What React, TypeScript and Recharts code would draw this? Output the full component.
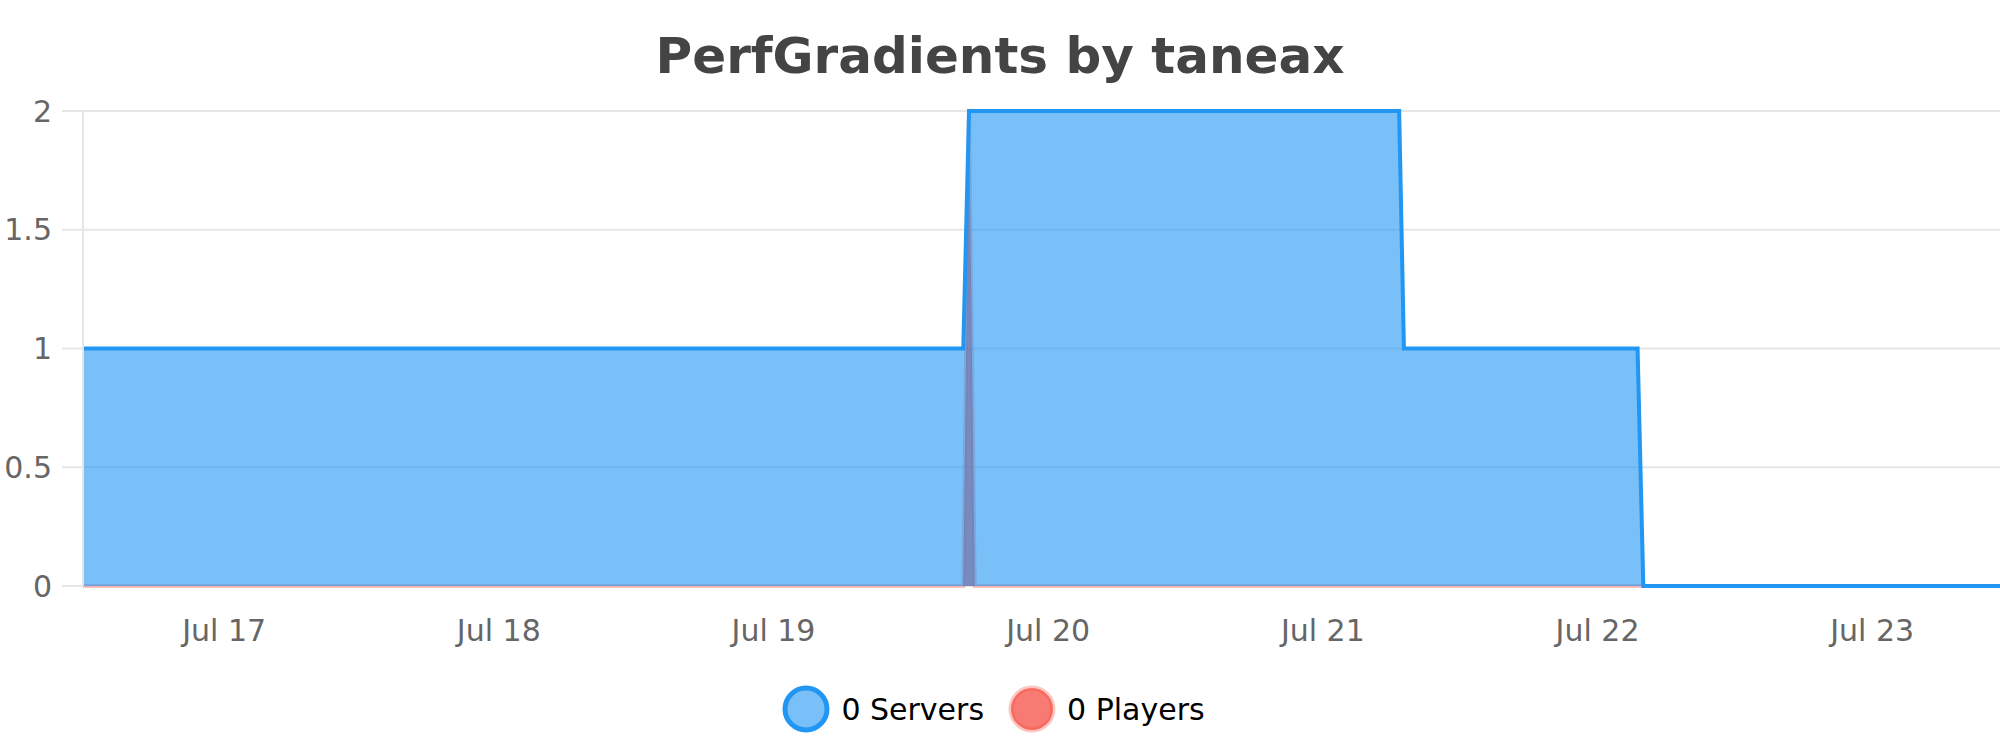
import { AreaChart, Area, XAxis, YAxis, CartesianGrid, Legend } from 'recharts';

// timestamps (UTC) where the series change
const times = [
  Date.UTC(2024, 6, 16, 11, 40),
  Date.UTC(2024, 6, 19, 16, 35),
  Date.UTC(2024, 6, 19, 17, 5),
  Date.UTC(2024, 6, 19, 17, 35),
  Date.UTC(2024, 6, 21, 6, 40),
  Date.UTC(2024, 6, 21, 7, 5),
  Date.UTC(2024, 6, 22, 3, 30),
  Date.UTC(2024, 6, 22, 4, 0),
  Date.UTC(2024, 6, 23, 11, 10),
];
const servers = [1, 1, 2, 2, 2, 1, 1, 0, 0];
const players = [0, 0, 2, 0, 0, 0, 0, 0, 0];

const dayTicks = [17, 18, 19, 20, 21, 22, 23].map((d) => Date.UTC(2024, 6, d));
const yTicks = [0, 0.5, 1, 1.5, 2];
const months = ['Jan', 'Feb', 'Mar', 'Apr', 'May', 'Jun', 'Jul', 'Aug', 'Sep', 'Oct', 'Nov', 'Dec'];

const title = 'PerfGradients by taneax';
const seriesNames = ['0 Servers', '0 Players'];

const data = times.map((t, i) => ({ time: t, servers: servers[i], players: players[i] }));

const BLUE = '#2196f3';
const RED = '#f44336';

const legendItems = [
  { name: seriesNames[0], fill: BLUE, fillOpacity: 0.6, stroke: BLUE, strokeOpacity: 1 },
  { name: seriesNames[1], fill: RED, fillOpacity: 0.7, stroke: RED, strokeOpacity: 0.3 },
];

const renderLegend = () => (
  <div
    style={{
      display: 'flex',
      justifyContent: 'center',
      alignItems: 'center',
      height: 60,
      paddingRight: 14,
      fontSize: 30,
      color: '#000',
    }}
  >
    {legendItems.map((item, i) => (
      <div key={item.name} style={{ display: 'flex', alignItems: 'center', marginRight: i === 0 ? 23 : 0 }}>
        <svg width={50} height={50} style={{ marginRight: 10 }}>
          <circle
            cx={25}
            cy={25}
            r={21}
            fill={item.fill}
            fillOpacity={item.fillOpacity}
            stroke={item.stroke}
            strokeOpacity={item.strokeOpacity}
            strokeWidth={5}
          />
        </svg>
        <span>{item.name}</span>
      </div>
    ))}
  </div>
);

export default function App() {
  return (
    <div
      style={{
        position: 'absolute',
        left: 0,
        top: 0,
        width: 2000,
        height: 750,
        fontFamily: '"DejaVu Sans", sans-serif',
        background: '#fff',
      }}
    >
      <svg width={2000} height={100} style={{ position: 'absolute', left: 0, top: 0 }}>
        <text x={1000} y={73} textAnchor="middle" fontSize={50} fontWeight="bold" fill="#444">
          {title}
        </text>
      </svg>
      <AreaChart width={2000} height={750} data={data} margin={{ top: 111, right: 0, bottom: 11, left: 0 }}>
        <CartesianGrid vertical={false} stroke="#e6e6e6" strokeWidth={2} />
        <XAxis
          dataKey="time"
          type="number"
          scale="time"
          domain={['dataMin', 'dataMax']}
          ticks={dayTicks}
          tickFormatter={(v) => {
            const d = new Date(v);
            return `${months[d.getUTCMonth()]} ${d.getUTCDate()}`;
          }}
          axisLine={false}
          tickLine={false}
          tickSize={0}
          tickMargin={34}
          height={93}
          tick={{ fill: '#666', fontSize: 30 }}
        />
        <YAxis
          domain={[0, 2]}
          ticks={yTicks}
          width={83}
          axisLine={{ stroke: '#e6e6e6', strokeWidth: 2 }}
          tickLine={{ stroke: '#e6e6e6', strokeWidth: 2 }}
          tickSize={21}
          tickMargin={10}
          tick={{ fill: '#666', fontSize: 30 }}
        />
        <Legend verticalAlign="bottom" content={renderLegend} />
        <Area
          type="linear"
          dataKey="players"
          name={seriesNames[1]}
          stroke={RED}
          strokeOpacity={0.3}
          strokeWidth={4}
          fill={RED}
          fillOpacity={0.7}
          dot={false}
          activeDot={false}
          isAnimationActive={false}
        />
        <Area
          type="linear"
          dataKey="servers"
          name={seriesNames[0]}
          stroke={BLUE}
          strokeWidth={4}
          fill={BLUE}
          fillOpacity={0.6}
          dot={false}
          activeDot={false}
          isAnimationActive={false}
        />
      </AreaChart>
    </div>
  );
}
